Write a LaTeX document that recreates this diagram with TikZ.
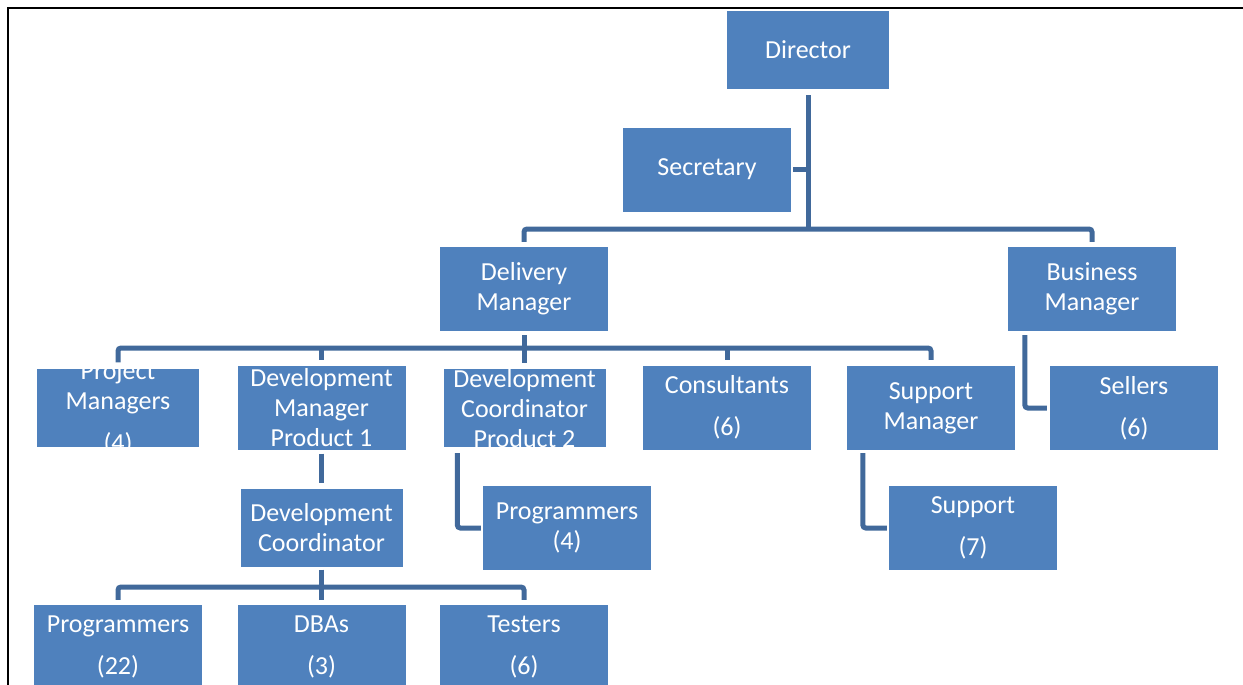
\documentclass[tikz,border=0pt]{standalone}
\usepackage{fontspec}
\setmainfont{Carlito}
\usetikzlibrary{calc}
\definecolor{boxblue}{HTML}{4F81BD}
\definecolor{linkblue}{HTML}{41699B}
\newcommand{\orgfont}{\fontsize{26}{30}\selectfont}
\tikzset{
  unit/.style={fill=boxblue, draw=none, text=white, align=center, inner sep=0pt, font=\orgfont},
  bigbox/.style={unit, minimum width=168pt, minimum height=84pt},
  smallbox/.style={unit, minimum width=162pt, minimum height=78pt},
  cliptext/.style={path picture={\node[fill=none, draw=none, minimum size=0pt, inner sep=0pt,
      text=white, align=center, font=\orgfont] at ([yshift=-1pt]path picture bounding box.center) {#1};}},
  conn/.style={draw=linkblue, line width=5pt, rounded corners=3pt},
}
\begin{document}
\begin{tikzpicture}[x=1pt, y=-1pt]
\useasboundingbox (0,0) rectangle (1243,685);
\clip (0,0) rectangle (1243,685);
\fill[white] (0,0) rectangle (1243,685);
% page frame
\draw[black, line width=2pt] (8,700) -- (8,8) -- (1250,8);

% boxes
\node[smallbox] (dir) at (808,50) {Director};
\node[bigbox] (sec) at (707,169.5) {Secretary};
\node[bigbox] (del) at (524,289) {Delivery\\Manager};
\node[bigbox] (bus) at (1092,289) {Business\\Manager};

\node[smallbox, cliptext={Project\\Managers\\[12pt](4)}] (pm) at (118,407.5) {};
\node[bigbox] (dm1) at (321.5,407.5) {Development\\Manager\\Product 1};
\node[smallbox, cliptext={Development\\Coordinator\\Product 2}] (dc2) at (524.5,408) {};
\node[bigbox] (con) at (727,407.5) {Consultants\\[12pt](6)};
\node[bigbox] (sm) at (931,408) {Support\\Manager};
\node[bigbox] (sel) at (1134,408) {Sellers\\[12pt](6)};

\node[smallbox] (dc) at (321.5,527.5) {Development\\Coordinator};
\node[bigbox] (pr4) at (567,528) {Programmers\\(4)};
\node[bigbox] (sup) at (973,528) {Support\\[12pt](7)};

\node[bigbox] (pr22) at (118,647) {Programmers\\[12pt](22)};
\node[bigbox] (dba) at (321.5,647) {DBAs\\[12pt](3)};
\node[bigbox] (tst) at (524,647) {Testers\\[12pt](6)};

% bus lines
\coordinate (busA) at (0,229);
\coordinate (busB) at (0,348);
\coordinate (busC) at (0,587);

% director level
\draw[conn] ([yshift=-6pt]dir.south) -- (dir.south |- busA);
\draw[conn] ([xshift=2pt]sec.east) -- (sec.east -| dir.south);
\draw[conn] ([yshift=5pt]del.north) -- (del.north |- busA) -- (bus.north |- busA) -- ([yshift=5pt]bus.north);

% delivery manager level
\draw[conn] ([yshift=-4pt]del.south) -- (del.south |- busB);
\draw[conn] ([yshift=6pt]pm.north) -- (pm.north |- busB) -- (sm.north |- busB) -- ([yshift=6pt]sm.north);
\draw[conn] (dm1.north |- busB) -- ([yshift=5pt]dm1.north);
\draw[conn] (dc2.north |- busB) -- ([yshift=6pt]dc2.north);
\draw[conn] (con.north |- busB) -- ([yshift=5pt]con.north);

% side branches
\draw[conn] ([xshift=17pt,yshift=-4pt]bus.south west) -- ([xshift=17pt]bus.south west |- sel.west) -- ([xshift=-3pt]sel.west);
\draw[conn] ([xshift=16pt,yshift=-3pt]sm.south west) -- ([xshift=16pt]sm.south west |- sup.west) -- ([xshift=-2pt]sup.west);
\draw[conn] ([xshift=14pt,yshift=-6pt]dc2.south west) -- ([xshift=14pt]dc2.south west |- pr4.west) -- ([xshift=-2pt]pr4.west);

% development branch
\draw[conn] ([yshift=-4pt]dm1.south) -- ([yshift=5pt]dc.north);
\draw[conn] ([yshift=-3pt]dc.south) -- (dc.south |- busC);
\draw[conn] ([yshift=5pt]pr22.north) -- (pr22.north |- busC) -- (tst.north |- busC) -- ([yshift=5pt]tst.north);
\draw[conn] (dba.north |- busC) -- ([yshift=5pt]dba.north);
\end{tikzpicture}
\end{document}
